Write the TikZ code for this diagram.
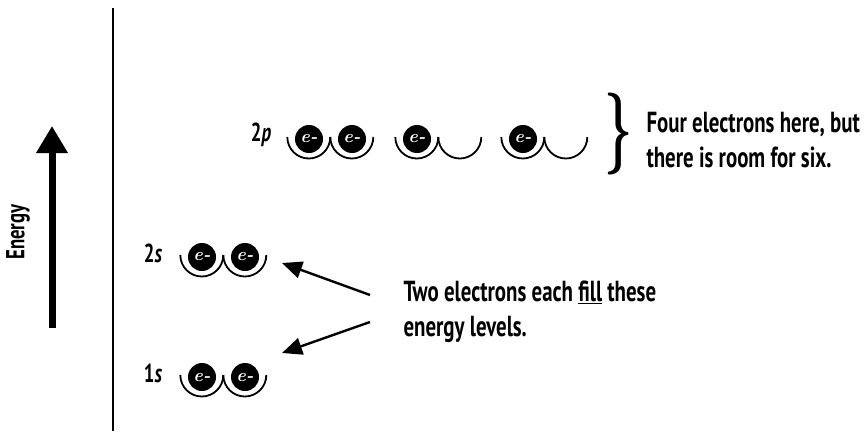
\documentclass[tikz,border=0pt]{standalone}
\usepackage{fontspec}
\newfontfamily\handfont{PT Sans}[FakeStretch=0.72]
\usetikzlibrary{arrows.meta}

\begin{document}
\begin{tikzpicture}[
  x=1pt, y=-1pt,
  every node/.style={font=\handfont\bfseries\fontsize{29}{35}\selectfont},
  orbital/.style={circle, minimum size=43pt, inner sep=0pt},
  electron/.style={circle, fill=black, minimum size=28pt, inner sep=0pt, text=white, font=\rmfamily\bfseries\itshape\fontsize{18}{18}\selectfont},
  cup/.style={line width=1.8pt},
  level/.style={font=\handfont\bfseries\fontsize{26}{26}\selectfont},
  note/.style={align=left, anchor=west},
  pointer/.style={-{Triangle[length=20pt,width=17pt]}, line width=2.4pt}
]
  \useasboundingbox (0,0) rectangle (864,431);

  \coordinate (axistop)    at (113,8);
  \coordinate (axisbottom) at (113,431);
  \draw[line width=2pt] (axistop) -- (axisbottom);

  \coordinate (energylow)  at (52,328);
  \coordinate (energyhigh) at (52,126);
  \draw[-{Triangle[length=27pt,width=30pt]}, line width=7pt] (energylow) -- (energyhigh);
  \node[level, rotate=90] (energylabel) at (18,232) {Energy};


  \node[level] (twoplabel) at (261,135) {2\textit{p}};
  \node[level] (twoslabel) at (153,253) {2\textit{s}};
  \node[level] (oneslabel) at (153,373) {1\textit{s}};


  \node[orbital] (twopa) at (309,137) {};
  \node[orbital] (twopb) at (352,137) {};
  \node[orbital] (twopc) at (417,137) {};
  \node[orbital] (twopd) at (460,137) {};
  \node[orbital] (twope) at (523,137) {};
  \node[orbital] (twopf) at (566,137) {};

  \node[orbital] (twosa) at (202,255) {};
  \node[orbital] (twosb) at (245,255) {};

  \node[orbital] (onesa) at (202,375) {};
  \node[orbital] (onesb) at (245,375) {};


  \draw[cup] (twopa.west) arc[start angle=180, end angle=360, radius=21.5pt];
  \draw[cup] (twopb.west) arc[start angle=180, end angle=360, radius=21.5pt];
  \draw[cup] (twopc.west) arc[start angle=180, end angle=360, radius=21.5pt];
  \draw[cup] (twopd.west) arc[start angle=180, end angle=360, radius=21.5pt];
  \draw[cup] (twope.west) arc[start angle=180, end angle=360, radius=21.5pt];
  \draw[cup] (twopf.west) arc[start angle=180, end angle=360, radius=21.5pt];
  \draw[cup] (twosa.west) arc[start angle=180, end angle=360, radius=21.5pt];
  \draw[cup] (twosb.west) arc[start angle=180, end angle=360, radius=21.5pt];
  \draw[cup] (onesa.west) arc[start angle=180, end angle=360, radius=21.5pt];
  \draw[cup] (onesb.west) arc[start angle=180, end angle=360, radius=21.5pt];


  \node[electron] (etwopa) at ([yshift=-2]twopa.center) {e-};
  \node[electron] (etwopb) at ([yshift=-2]twopb.center) {e-};
  \node[electron] (etwopc) at ([yshift=-2]twopc.center) {e-};
  \node[electron] (etwope) at ([yshift=-2]twope.center) {e-};
  \node[electron] (etwosa) at ([yshift=-2]twosa.center) {e-};
  \node[electron] (etwosb) at ([yshift=-2]twosb.center) {e-};
  \node[electron] (eonesa) at ([yshift=-2]onesa.center) {e-};
  \node[electron] (eonesb) at ([yshift=-2]onesb.center) {e-};


  \node (brace) at (619,134) {\scalebox{0.6}[1]{\rmfamily\bfseries\fontsize{82}{82}\selectfont\}}};
  \node[note] (roomnote) at (643,140) {Four electrons here, but\\there is room for six.};

  \node[note] (fillnote) at (400,312) {Two electrons each \underline{fill} these\\energy levels.};
  \coordinate (filltailup)   at (370,295);
  \coordinate (filltipup)    at (282,263);
  \coordinate (filltaildown) at (370,322);
  \coordinate (filltipdown)  at (282,353);
  \draw[pointer] (filltailup) -- (filltipup);
  \draw[pointer] (filltaildown) -- (filltipdown);
\end{tikzpicture}
\end{document}
